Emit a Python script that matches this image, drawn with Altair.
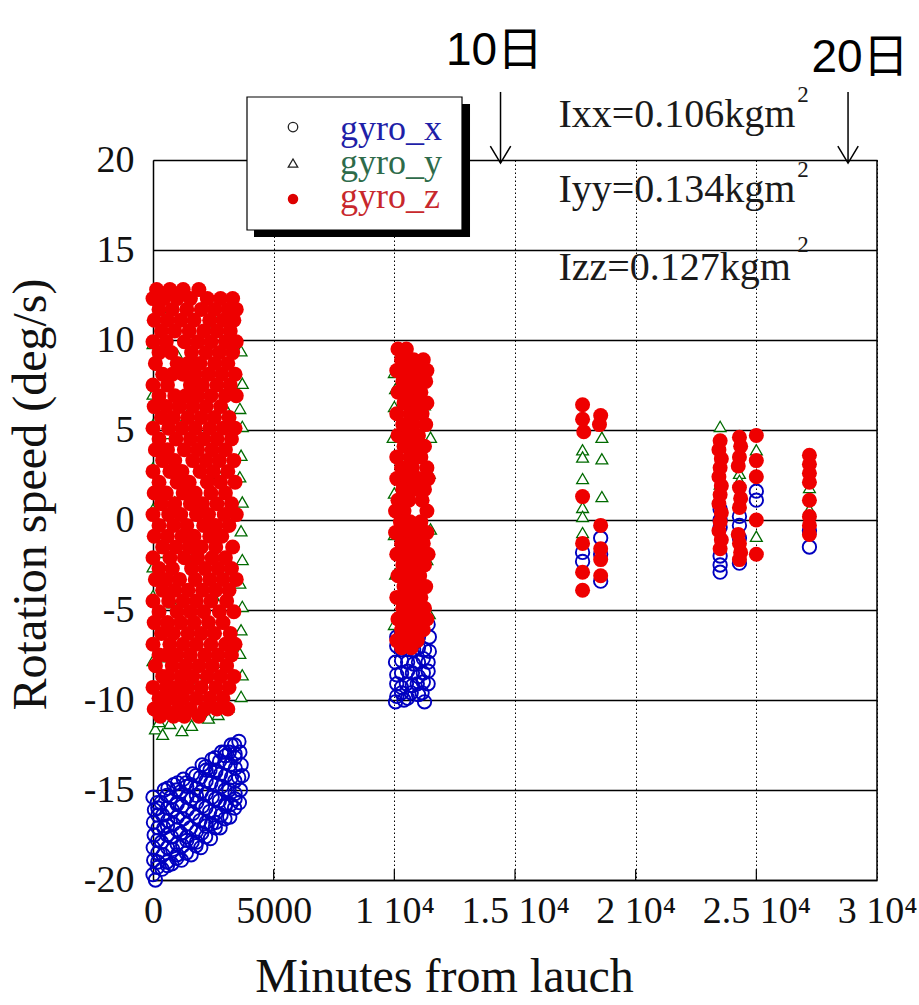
import altair as alt
import pandas as pd

# ---------------- data: minutes from launch, rotation speed (deg/s) ----------------
# gyro_z, first pass (0 - 3500 min): rows of (speed, [minutes ...])
gyro_z_pass1_rows = [
    (12.8, [150, 700, 1250, 1900]),
    (12.3, [0, 450, 1000, 1550, 2250, 2800, 3300]),
    (11.7, [250, 800, 1400, 2000, 2550, 3100, 3450]),
    (11.1, [50, 600, 1150, 1700, 2350, 2900, 3350]),
    (10.5, [350, 900, 1500, 2100, 2650, 3200]),
    (9.9, [0, 550, 1300, 1850, 2400, 3000, 3450]),
    (9.3, [250, 750, 1600, 2200, 2750, 3300]),
    (8.7, [100, 1000, 1450, 1950, 2550, 3100]),
    (8.1, [400, 800, 1250, 1750, 2300, 2850, 3400]),
    (7.5, [0, 600, 1550, 2050, 2650, 3200]),
    (6.9, [250, 900, 1350, 1850, 2400, 3000, 3450]),
    (6.3, [50, 550, 1100, 1650, 2200, 2800]),
    (5.7, [350, 850, 1450, 2000, 2550, 3150]),
    (5.1, [0, 650, 1200, 1750, 2350, 2900, 3400]),
    (4.5, [250, 950, 1550, 2100, 2650, 3250]),
    (3.9, [100, 600, 1300, 1850, 2450, 3000]),
    (3.3, [400, 900, 1650, 2200, 2750, 3350]),
    (2.7, [0, 700, 1200, 1950, 2500, 3100]),
    (2.1, [250, 1000, 1500, 2250, 2800, 3400]),
    (1.5, [50, 550, 1250, 1750, 2400, 3000]),
    (0.9, [350, 900, 1550, 2050, 2650, 3250]),
    (0.3, [0, 650, 1150, 1800, 2300, 2950, 3450]),
    (-0.3, [250, 850, 1400, 2100, 2600, 3150]),
    (-0.9, [50, 600, 1200, 1700, 2350, 2850]),
    (-1.5, [400, 950, 1500, 2000, 2600, 3300]),
    (-2.1, [0, 700, 1300, 1850, 2450, 3000]),
    (-2.7, [250, 800, 1600, 2150, 2700, 3250]),
    (-3.3, [100, 550, 1100, 1750, 2350, 2900, 3450]),
    (-3.9, [400, 900, 1450, 2050, 2600, 3150]),
    (-4.5, [0, 650, 1250, 1800, 2400, 3050]),
    (-5.1, [250, 1000, 1550, 2100, 2750, 3350]),
    (-5.7, [50, 600, 1150, 1700, 2300, 2900]),
    (-6.3, [350, 850, 1450, 2000, 2550, 3200]),
    (-6.9, [0, 700, 1250, 1800, 2400, 3000, 3400]),
    (-7.5, [250, 550, 1000, 1550, 2150, 2700, 3250]),
    (-8.1, [100, 800, 1350, 1900, 2450, 3050]),
    (-8.7, [400, 600, 1150, 1650, 2250, 2800, 3350]),
    (-9.3, [0, 550, 950, 1450, 2000, 2600, 3150]),
    (-9.9, [250, 750, 1250, 1800, 2350, 2900]),
    (-10.5, [50, 500, 1050, 1550, 2150, 2650, 3100]),
    (-10.9, [300, 850, 1300, 1900]),
]

# gyro_z, second pass (~10000 - 11500 min)
gyro_z_pass2_rows = [
    (9.5, [10150, 10500]),
    (8.9, [10300, 10800, 11200]),
    (8.3, [10100, 10600, 11050, 11350]),
    (7.7, [10350, 10850, 11300]),
    (7.1, [10150, 10600, 11100]),
    (6.5, [10400, 10900, 11350]),
    (5.9, [10100, 10650, 11150]),
    (5.3, [10350, 10800, 11300]),
    (4.7, [10150, 10550, 11000]),
    (4.1, [10400, 10850, 11250]),
    (3.5, [10100, 10650, 11100]),
    (2.9, [10300, 10750, 11350]),
    (2.3, [10100, 10550, 11000, 11400]),
    (1.7, [10350, 10800, 11250]),
    (1.1, [10150, 10600, 11150]),
    (0.5, [10050, 10400, 11350]),
    (-0.1, [10250, 10650, 11100]),
    (-0.7, [10050, 10500, 10950, 11350]),
    (-1.3, [10300, 10750, 11200]),
    (-1.9, [10100, 10550, 11000, 11400]),
    (-2.5, [10350, 10800, 11250]),
    (-3.1, [10150, 10600, 11050]),
    (-3.7, [10400, 10850, 11300]),
    (-4.3, [10100, 10600, 11100]),
    (-4.9, [10350, 10800, 11250]),
    (-5.5, [10150, 10550, 11000, 11350]),
    (-6.1, [10300, 10750, 11200]),
    (-6.7, [10100, 10500, 10950]),
    (-7.1, [10300, 10700]),
]

# gyro_z, later passes (minutes, deg/s)
gyro_z_later = [
    (17800, 6.4), (17800, 5.6), (17850, 4.9), (17800, 1.3), (17800, -1.3),
    (17800, -2.9), (17800, -3.9), (18550, 5.8), (18500, 5.3), (18550, -0.3),
    (18550, -1.6), (18550, -2.2), (18550, -3.1),
    (23500, 4.4), (23450, 3.9), (23550, 3.4), (23500, 2.9), (23450, 2.4),
    (23550, 1.9), (23500, 1.4), (23450, 0.9), (23550, 0.4), (23500, -0.1),
    (23450, -0.6), (23550, -1.1), (23500, -1.6),
    (24300, 4.6), (24350, 4.1), (24300, 3.5), (24250, 3.0), (24300, 1.8),
    (24350, 1.2), (24300, 0.7), (24250, -0.8), (24300, -1.3), (24350, -1.8),
    (24300, -2.2),
    (25000, 4.7), (25000, 3.3), (25000, 2.4), (25000, 0.0), (25000, -1.9),
    (27200, 3.6), (27200, 3.1), (27200, 2.6), (27200, 2.1), (27200, 1.1),
    (27200, 0.2), (27200, -0.3), (27200, -0.8),
]

# gyro_y (minutes, deg/s)
gyro_y_points = [
    (3650, 9.4), (3700, 7.6), (3600, 6.2), (3700, 5.2), (3650, 3.6), (3600, 2.4),
    (3700, 1.0), (3650, -0.6), (3700, -2.2), (3600, -3.5), (3700, -4.8),
    (3650, -6.1), (3600, -7.4), (3700, -8.6), (3650, -9.8),
    (0, 9.8), (0, 7.0), (0, 5.3), (0, 2.9), (0, 0.6), (0, -2.6), (0, -4.2), (0, -7.8),
    (100, -11.6), (400, -11.9), (700, -11.3), (1200, -11.7), (1600, -11.4),
    (2300, -11.0), (2700, -10.8), (3100, -10.4), (250, -11.2),
    (1000, 9.2), (1400, 5.8), (2200, 3.3), (900, 1.0), (1700, -2.0), (2500, -4.2),
    (1200, -6.0), (2000, 7.8), (2700, 2.6), (1500, -0.5), (600, 4.8), (2800, -7.9),
    (400, -1.8), (3100, 6.0), (2400, 9.6), (800, -4.6), (1900, -8.9), (300, -7.6),
    (2900, -2.9), (1100, 2.4), (2600, 11.0), (500, 11.3),
    (10000, 8.2), (10050, 7.3), (10000, 6.3), (11250, 6.4), (9950, 4.6),
    (11500, 4.6), (11450, 2.6), (10000, 1.5), (11350, -2.2), (10000, -0.8),
    (11450, -5.2), (10050, -3.0), (10000, -5.8), (11500, -0.5), (10500, 3.4),
    (10800, -4.0),
    (17800, 3.9), (17800, 3.5), (17800, 2.3), (17800, 0.7), (17800, 0.2),
    (17800, -0.7), (18600, 4.6), (18600, 3.4), (18600, 1.3),
    (23500, 5.2), (23500, 2.0), (24300, 2.6), (24300, 2.2),
    (25000, 3.9), (25000, -0.9), (27200, 1.8), (27200, 0.6),
]

# gyro_x (minutes, deg/s)
gyro_x_points = [
    (0, -19.7), (30, -18.9), (10, -18.2), (50, -17.5), (20, -16.8), (60, -16.1), (0, -15.4),
    (380, -19.4), (420, -18.6), (350, -17.9), (450, -17.1), (400, -16.4), (330, -15.7), (470, -15.0),
    (780, -19.1), (820, -18.3), (760, -17.6), (850, -16.9), (800, -16.1), (740, -15.4), (860, -14.7),
    (1180, -18.9), (1230, -18.1), (1150, -17.4), (1250, -16.6), (1200, -15.9), (1140, -15.1), (1260, -14.4),
    (1580, -18.6), (1620, -17.9), (1550, -17.1), (1650, -16.3), (1600, -15.5), (1560, -14.7), (1640, -14.1),
    (1980, -18.2), (2020, -17.4), (1950, -16.7), (2050, -15.9), (2000, -15.1), (1960, -14.3), (2040, -13.6),
    (2380, -17.7), (2420, -16.9), (2350, -16.2), (2450, -15.4), (2400, -14.6), (2360, -13.9), (2440, -13.3),
    (2780, -17.1), (2820, -16.4), (2750, -15.6), (2850, -14.8), (2800, -14.1), (2760, -13.4), (2840, -12.9),
    (3180, -16.5), (3220, -15.8), (3150, -15.0), (3250, -14.3), (3200, -13.6), (3160, -12.9), (3240, -12.5),
    (3580, -15.7), (3620, -15.0), (3550, -14.3), (3650, -13.6), (3600, -12.9), (3560, -12.3),
    (200, -19.0), (600, -17.0), (1000, -15.8), (1400, -17.8), (1800, -15.3), (2200, -17.0),
    (2600, -14.0), (3000, -15.9), (3400, -13.2), (200, -16.0), (600, -19.2), (1000, -18.6),
    (1400, -14.8), (1800, -17.9), (2200, -13.9), (2600, -16.8), (3000, -13.1), (3400, -15.5),
    (100, -20.0), (3700, -14.2),
    (180, -19.3), (200, -18.5), (190, -17.8), (210, -17.1), (200, -16.4), (180, -15.7),
    (580, -19.0), (600, -18.2), (590, -17.5), (610, -16.7), (600, -16.0), (580, -15.3), (620, -14.9),
    (980, -18.8), (1000, -18.0), (990, -17.2), (1010, -16.5), (1000, -15.7), (980, -15.0), (1020, -14.6),
    (1380, -18.5), (1400, -17.6), (1390, -16.9), (1410, -16.1), (1400, -15.4), (1380, -14.6),
    (1780, -18.1), (1800, -17.3), (1790, -16.5), (1810, -15.7), (1800, -14.9), (1780, -14.2),
    (2180, -17.6), (2200, -16.8), (2190, -16.0), (2210, -15.2), (2200, -14.5), (2180, -13.7),
    (2580, -17.1), (2600, -16.3), (2590, -15.5), (2610, -14.7), (2600, -13.9), (2580, -13.2),
    (2980, -16.6), (3000, -15.8), (2990, -15.0), (3010, -14.2), (3000, -13.5), (2980, -12.9),
    (3380, -16.0), (3400, -15.2), (3390, -14.5), (3410, -13.8), (3400, -13.0), (3380, -12.5),
    (11400, -5.8),
    (10100, -6.5), (10550, -6.5), (11000, -6.5), (11450, -6.5),
    (10300, -7.2), (10800, -7.2), (11250, -7.2),
    (10050, -7.9), (10550, -7.9), (11000, -7.9), (11400, -7.9),
    (10300, -8.5), (10750, -8.5), (11200, -8.5),
    (10100, -9.1), (10500, -9.1), (10950, -9.1), (11400, -9.1),
    (10300, -9.6), (10700, -9.6), (11150, -9.6),
    (10050, -10.1), (11250, -10.1),
    (10300, -6.2), (10800, -6.0), (10100, -7.0), (10550, -7.2), (11000, -7.1), (11450, -7.3),
    (10300, -7.8), (10800, -8.0), (11200, -7.7), (10100, -8.6), (10550, -8.4), (11000, -8.7),
    (11400, -8.4), (10300, -9.3), (10750, -9.2), (11200, -9.0), (10100, -9.8), (10550, -9.9),
    (11000, -9.7), (10400, -10.0),
    (17800, -1.8), (17800, -2.3), (18550, -1.0), (18550, -1.9), (18550, -3.4),
    (23500, 0.6), (23500, 0.0), (23500, -0.4), (23500, -2.0), (23500, -2.5), (23500, -2.9),
    (24300, 0.2), (24300, -0.3), (24300, -1.0), (24300, -2.4),
    (25000, 1.6), (25000, 1.1),
    (27200, -1.5), (27200, -0.6),
]

x_tick_values = [0, 5000, 10000, 15000, 20000, 25000, 30000]
x_tick_labels = ["0", "5000", "1 10⁴", "1.5 10⁴", "2 10⁴", "2.5 10⁴", "3 10⁴"]
y_tick_values = [-20, -15, -10, -5, 0, 5, 10, 15, 20]

series_names = ["gyro_x", "gyro_y", "gyro_z"]
series_text_colors = ["#1f1fa8", "#2e6b4a", "#c8282c"]

inertia_labels = ["Ixx=0.106kgm", "Iyy=0.134kgm", "Izz=0.127kgm"]
day_marks_minutes = [14400, 28800]
day_labels = ["10日", "20日"]

# ---------------- frames ----------------
z_pts = [(t, v) for v, ts in gyro_z_pass1_rows for t in ts]
z_pts += [(t, v) for v, ts in gyro_z_pass2_rows for t in ts]
z_pts += gyro_z_later
df_z = pd.DataFrame(z_pts, columns=["t", "v"])
df_y = pd.DataFrame(gyro_y_points, columns=["t", "v"])
df_x = pd.DataFrame(gyro_x_points, columns=["t", "v"])

SERIF = "Liberation Serif"
SANS = "Liberation Sans, Noto Sans CJK JP"

label_expr = "".join(f"datum.value == {v} ? '{l}' : " for v, l in zip(x_tick_values, x_tick_labels)) + "''"

x_enc = alt.X(
    "t:Q",
    scale=alt.Scale(domain=[0, 30000], nice=False, zero=False),
    axis=alt.Axis(
        values=x_tick_values, labelExpr=label_expr, labelFlush=False,
        grid=True, gridColor="black", gridDash=[1.5, 2.5], gridWidth=1,
        ticks=False, domain=True, domainColor="black", domainWidth=1.5,
        labelFont=SERIF, labelFontSize=38, labelColor="#111", labelPadding=12,
        title="Minutes from lauch", titleFont=SERIF, titleFontSize=48,
        titleFontWeight="normal", titleColor="#111",
        titleX=291, titleY=111, titleAlign="center", titleBaseline="alphabetic",
    ),
)
y_enc = alt.Y(
    "v:Q",
    scale=alt.Scale(domain=[-20, 20], nice=False, zero=False),
    axis=alt.Axis(
        values=y_tick_values, labelExpr="datum.value + ''",
        grid=True, gridColor="black", gridWidth=1.3,
        ticks=False, domain=True, domainColor="black", domainWidth=1.5,
        labelFont=SERIF, labelFontSize=38, labelColor="#111", labelPadding=19,
        title="Rotation speed (deg/s)", titleFont=SERIF, titleFontSize=48,
        titleFontWeight="normal", titleColor="#111",
        titleX=-122, titleY=334, titleAngle=270, titleAlign="center",
        titleBaseline="middle",
    ),
)

# border on the right and inward ticks on the bottom
df_right = pd.DataFrame({"t": [30000], "v": [-20], "v2": [20]})
right_border = alt.Chart(df_right).mark_rule(color="black", strokeWidth=1.5).encode(
    x=x_enc, y=y_enc, y2="v2:Q")
df_ticks = pd.DataFrame({"t": x_tick_values[1:-1], "v": [-20] * 5, "v2": [-19.4] * 5})
bottom_ticks = alt.Chart(df_ticks).mark_rule(color="black", strokeWidth=1.2).encode(
    x=x_enc, y=y_enc, y2="v2:Q")

pts_x = alt.Chart(df_x).mark_point(
    shape="circle", filled=False, color="#0000c0", size=180, strokeWidth=1.9, opacity=1
).encode(x=x_enc, y=y_enc)
pts_y = alt.Chart(df_y).mark_point(
    shape="triangle-up", filled=True, fill="white", stroke="#006a00", size=140,
    strokeWidth=1.3, opacity=1, fillOpacity=1, strokeOpacity=1
).encode(x=x_enc, y=y_enc)
pts_z = alt.Chart(df_z).mark_circle(color="#ee0000", size=225, opacity=1).encode(x=x_enc, y=y_enc)

# legend box (in data units)
df_shadow = pd.DataFrame({"t": [4185], "t2": [13136], "v": [15.72], "v2": [23.11]})
shadow = alt.Chart(df_shadow).mark_rect(color="black").encode(
    x=x_enc, x2="t2:Q", y=y_enc, y2="v2:Q")
df_box = pd.DataFrame({"t": [3895], "t2": [12804], "v": [16.11], "v2": [23.5]})
box = alt.Chart(df_box).mark_rect(fill="white", stroke="black", strokeWidth=1.2).encode(
    x=x_enc, x2="t2:Q", y=y_enc, y2="v2:Q")
leg_sym_x = alt.Chart(pd.DataFrame({"t": [5801], "v": [21.83]})).mark_point(
    shape="circle", filled=False, color="#222", size=90, strokeWidth=1.3, opacity=1
).encode(x=x_enc, y=y_enc)
leg_sym_y = alt.Chart(pd.DataFrame({"t": [5801], "v": [19.83]})).mark_point(
    shape="triangle-up", filled=False, color="#222", size=90, strokeWidth=1.3, opacity=1
).encode(x=x_enc, y=y_enc)
leg_sym_z = alt.Chart(pd.DataFrame({"t": [5801], "v": [17.83]})).mark_circle(
    color="#dd0000", size=110, opacity=1
).encode(x=x_enc, y=y_enc)
df_leg = pd.DataFrame({"t": [7749] * 3, "v": [21.11, 19.22, 17.33],
                       "label": series_names, "col": series_text_colors})
leg_text = alt.Chart(df_leg).mark_text(
    align="left", baseline="alphabetic", font=SERIF, fontSize=36
).encode(x=x_enc, y=y_enc, text="label:N", color=alt.Color("col:N", scale=None))

# inertia annotations
df_inertia = pd.DataFrame({"t": [16800] * 3, "v": [21.83, 17.67, 13.33], "label": inertia_labels})
inertia = alt.Chart(df_inertia).mark_text(
    align="left", baseline="alphabetic", font=SERIF, fontSize=40, color="#1a1a1a"
).encode(x=x_enc, y=y_enc, text="label:N")
df_sup = pd.DataFrame({"t": [26700] * 3, "v": [23.22, 19.06, 14.89], "label": ["2", "2", "2"]})
sup = alt.Chart(df_sup).mark_text(
    align="left", baseline="alphabetic", font=SERIF, fontSize=23, color="#1a1a1a"
).encode(x=x_enc, y=y_enc, text="label:N")

# day markers
df_arrow = pd.DataFrame({"t": day_marks_minutes, "v": [23.78, 23.78], "v2": [19.83, 19.83]})
arrow_line = alt.Chart(df_arrow).mark_rule(color="black", strokeWidth=1.5).encode(
    x=x_enc, y=y_enc, y2="v2:Q")
df_head = pd.DataFrame({"t": day_marks_minutes, "v": [19.83, 19.83]})
arrow_head = alt.Chart(df_head).mark_point(
    shape="M-0.6,-1L0,0L0.6,-1", filled=False, color="black", size=1156,
    strokeWidth=1.5, opacity=1
).encode(x=x_enc, y=y_enc)
df_days = pd.DataFrame({"t": [14150, 29300], "v": [25.3, 24.9], "label": day_labels})
days = alt.Chart(df_days).mark_text(
    align="center", baseline="alphabetic", font=SANS, fontSize=46, color="black"
).encode(x=x_enc, y=y_enc, text="label:N")

chart = alt.layer(
    right_border, bottom_ticks, pts_x, pts_y, pts_z,
    shadow, box, leg_sym_x, leg_sym_y, leg_sym_z, leg_text,
    inertia, sup, arrow_line, arrow_head, days,
).properties(
    width=724, height=720,
    padding={"left": 153, "top": 160, "right": 42, "bottom": 125},
    autosize=alt.AutoSizeParams(type="none"),
    background="white",
).configure_view(stroke=None)

chart.save("out.html", embed_options={"renderer": "svg", "actions": False})
